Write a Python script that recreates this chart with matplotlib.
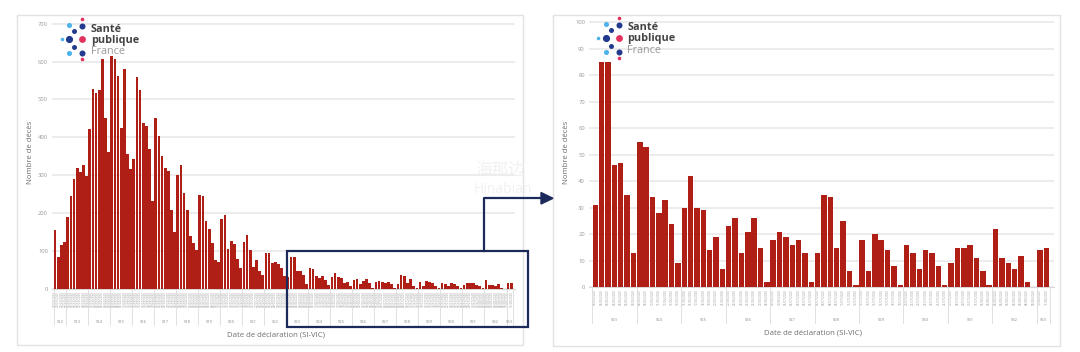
import matplotlib
matplotlib.use("Agg")
import matplotlib.pyplot as plt
import matplotlib.transforms as mtransforms
from matplotlib.patches import Rectangle, Polygon
from matplotlib.lines import Line2D
import pandas as pd

# ---------------- data ----------------
start_left = "2020-03-19"
start_right = "2020-06-01"
end_date = "2020-08-11"

deaths_mar_may = [155, 83, 115, 124, 189, 245, 291, 320, 307, 327, 297, 423, 527, 518, 525,
                  608, 450, 362, 615, 608, 562, 425, 580, 355, 316, 342,
                  560, 525, 438, 430, 369, 232, 452, 404, 350, 320, 312, 207, 151, 300,
                  328, 252, 207, 140, 121, 101, 247, 245, 180, 159, 120, 77,
                  70, 184, 195, 104, 127, 119, 78, 54, 123, 141, 101, 57, 75, 47, 36,
                  93, 93, 69, 70, 64, 56, 33]
deaths_jun_aug = [31, 85, 85, 46, 47, 35, 13,
                  55, 53, 34, 28, 33, 24, 9,
                  30, 42, 30, 29, 14, 19, 7,
                  23, 26, 13, 21, 26, 15, 2,
                  18, 21, 19, 16, 18, 13, 2,
                  13, 35, 34, 15, 25, 6, 1,
                  18, 6, 20, 18, 14, 8, 1,
                  16, 13, 7, 14, 13, 8, 1,
                  9, 15, 15, 16, 11, 6, 1,
                  22, 11, 9, 7, 12, 2, 0,
                  14, 15]
deaths_left = deaths_mar_may + deaths_jun_aug

ylabel = "Nombre de décès"
xlabel = "Date de déclaration (SI-VIC)"

W, H = 1080, 352
BAR = "#b01f16"
NAVY = "#1b2a5a"
GRID = "#e9e9e9"

plt.rcParams["font.family"] = ["Open Sans", "DejaVu Sans"]

fig = plt.figure(figsize=(W / 100, H / 100), dpi=100)


def fx(px):
    return px / W


def fy(py):
    return 1 - py / H


def panel_frame(x0, y0, x1, y1):
    r = Rectangle((fx(x0), fy(y1)), fx(x1) - fx(x0), fy(y0) - fy(y1),
                  transform=fig.transFigure, facecolor="white",
                  edgecolor="#e2e2e2", lw=1.0, zorder=0)
    fig.add_artist(r)


def draw_logo(cx, cy):
    dblue, lblue, pink = "#223a8e", "#4db3ea", "#e2315c"
    dots = [  # dx, dy, color, size
        (0, -14.3, lblue, 7), (13.3, -13.3, dblue, 11), (13.3, -20, pink, 2.5),
        (5, -8.3, dblue, 6.5), (-7.3, 0, lblue, 2.5), (0, 0, dblue, 17),
        (13.3, 0, pink, 15), (5, 8, dblue, 6.5), (0, 14, lblue, 7),
        (13.3, 13.4, dblue, 11), (13.3, 20, pink, 2.5)]
    for dx, dy, c, s in dots:
        fig.add_artist(Line2D([fx(cx + dx)], [fy(cy + dy)], marker="o",
                              markersize=s ** 0.5, color=c, lw=0,
                              transform=fig.transFigure))
    tx = fx(cx + 21.7)
    fig.text(tx, fy(cy - 10.3), "Santé", fontsize=7.8, fontweight="bold",
             color="#444444", va="center", ha="left")
    fig.text(tx, fy(cy + 0.7), "publique", fontsize=7.8, fontweight="bold",
             color="#444444", va="center", ha="left")
    fig.text(tx, fy(cy + 12.2), "France", fontsize=7.8, color="#9a9a9a",
             va="center", ha="left")


def bar_panel(values, start, ax_px, ymax, ystep, top_px, zero_px, xl_center):
    x0, x1 = ax_px
    dates = pd.date_range(start, end_date, freq="D")
    labels = [d.strftime("%d/%m/%Y") for d in dates]
    weeks = ["S%d" % d.isocalendar()[1] for d in dates]
    n = len(values)
    ppu = 265.0 / ymax  # pixels per unit
    ytop = ymax + (zero_px - 265.0 - top_px) / ppu
    ax = fig.add_axes([fx(x0), fy(zero_px), fx(x1) - fx(x0), (zero_px - top_px) / H])
    xs = list(range(n))
    ax.bar(xs, values, width=0.86, color=BAR, edgecolor="none", zorder=3)
    ax.set_xlim(-1.0, n + 0.2)
    ax.set_ylim(0, ytop)
    yt = list(range(0, ymax + 1, ystep))
    ax.set_yticks(yt)
    ax.set_yticklabels([str(v) for v in yt], fontsize=4.2, color="#9a9a9a")
    ax.yaxis.grid(True, color=GRID, lw=1.2, zorder=0)
    ax.set_axisbelow(True)
    for s in ["top", "right", "left"]:
        ax.spines[s].set_visible(False)
    ax.spines["bottom"].set_color("#d8d8d8")
    ax.spines["bottom"].set_linewidth(0.8)
    ax.tick_params(axis="y", length=0, pad=3)
    ax.set_xticks(xs)
    ax.set_xticklabels(labels, rotation=90, fontsize=2.2, color="#9c9c9c")
    ax.tick_params(axis="x", length=0, pad=1.5)
    # week groups
    trans = mtransforms.blended_transform_factory(ax.transData, fig.transFigure)
    groups = []
    i = 0
    while i < n:
        j = i
        while j + 1 < n and weeks[j + 1] == weeks[i]:
            j += 1
        groups.append((i, j, weeks[i]))
        i = j + 1
    bounds = [g[0] - 0.5 for g in groups] + [groups[-1][1] + 0.5]
    for b in bounds:
        ax.add_line(Line2D([b, b], [fy(zero_px), fy(zero_px + 36)], transform=trans,
                           color="#dcdcdc", lw=0.6, clip_on=False))
    for a, b, w in groups:
        ax.text((a + b) / 2, fy(zero_px + 33), w, transform=trans, fontsize=3.0,
                color="#8a8a8a", ha="center", va="center")
    fig.text(fx(xl_center), fy(zero_px + 46), xlabel, fontsize=5.6,
             color="#6e6e6e", ha="center", va="center")
    return ax


# Left panel
panel_frame(17, 15, 523, 345)
bar_panel(deaths_left, start_left, (52, 515), 700, 100, 20, 288.7, 276)
fig.text(fx(30), fy(152), ylabel, rotation=90, fontsize=5.6, color="#6e6e6e",
         ha="center", va="center")
draw_logo(69, 39.3)

# Right panel
panel_frame(553, 15, 1060, 346)
bar_panel(deaths_jun_aug, start_right, (589, 1054), 100, 10, 19, 287.3, 813)
fig.text(fx(567), fy(152), ylabel, rotation=90, fontsize=5.6, color="#6e6e6e",
         ha="center", va="center")
draw_logo(605.7, 38.3)

# Highlight box and arrow
fig.add_artist(Rectangle((fx(287), fy(327)), fx(528) - fx(287), fy(251) - fy(327),
                         transform=fig.transFigure, fill=False, edgecolor=NAVY,
                         lw=1.6, zorder=10))
fig.add_artist(Line2D([fx(484), fx(484), fx(543)], [fy(251), fy(198.3), fy(198.3)],
                      transform=fig.transFigure, color=NAVY, lw=1.6, zorder=10))
fig.add_artist(Polygon([(fx(541), fy(192.5)), (fx(541), fy(204)), (fx(553), fy(198.3))],
                       closed=True, transform=fig.transFigure, color=NAVY, zorder=10))

# faint watermark
fig.text(fx(500), fy(170), "海那边", fontsize=12, color="#f1f1f1",
         family=["Noto Sans CJK SC", "DejaVu Sans"], ha="center", va="center", zorder=1)
fig.text(fx(503), fy(189), "Hinabian", fontsize=10, color="#f1f1f1",
         ha="center", va="center", zorder=1)

fig.savefig("out.png", dpi=100, facecolor="white")
